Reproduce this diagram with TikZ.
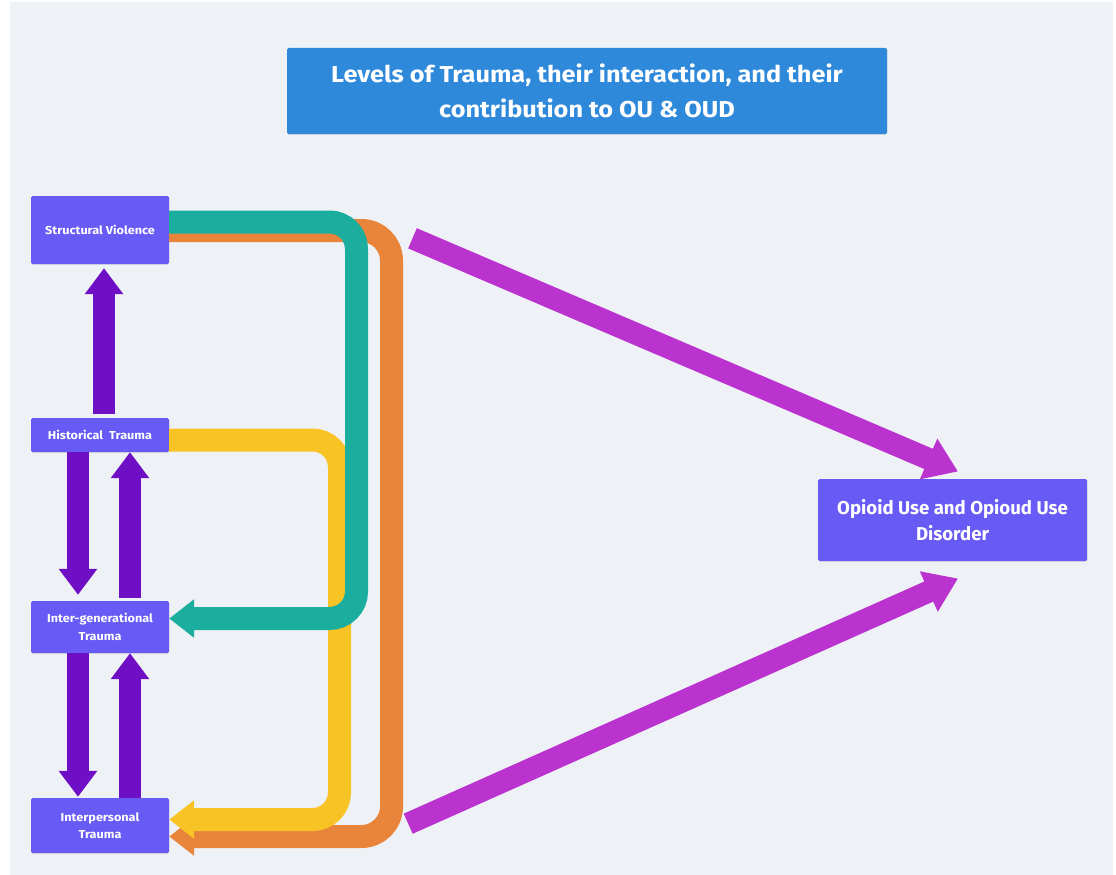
\documentclass[tikz,border=0pt]{standalone}
\usepackage{fontspec}
\setmainfont{Fira Sans}
\newfontfamily\widefont[FakeStretch=1.1]{Fira Sans}
\usetikzlibrary{arrows.meta,shadows}
\definecolor{bgc}{HTML}{EEF2F6}
\definecolor{titlec}{HTML}{2E89DB}
\definecolor{boxc}{HTML}{685BF5}
\definecolor{purp}{HTML}{6F0FC5}
\definecolor{tealc}{HTML}{1BAE9E}
\definecolor{orangec}{HTML}{E8853A}
\definecolor{yellowc}{HTML}{F7C325}
\definecolor{magc}{HTML}{BB33CF}
\tikzset{
  box/.style={fill=boxc, text=white, font=\bfseries, inner sep=0pt, rounded corners=1.5pt, align=center,
    drop shadow={opacity=0.18, shadow xshift=0.4pt, shadow yshift=-0.8pt}},
  smallbox/.style={box, minimum width=138pt, font=\widefont\bfseries\fontsize{11.5}{17.5}\selectfont},
  parrow/.style={draw=purp, line width=22.5pt, -{Triangle[width=37pt,length=26pt]}, purp},
  loop/.style={line width=23pt, rounded corners=27pt, -{Triangle[width=37pt,length=25pt]}},
  marrow/.style={draw=magc, line width=22pt, -{Triangle[width=42pt,length=32pt]}, magc}
}
\begin{document}
\begin{tikzpicture}[x=1pt,y=-1pt]
\useasboundingbox (0,0) rectangle (1116,875);
\fill[white] (0,0) rectangle (1116,875);
\fill[bgc] (10,2) rectangle (1113,875);

\node[box, fill=titlec, minimum width=600pt, minimum height=86pt, font=\widefont\bfseries\fontsize{23}{34.5}\selectfont] (title) at (587,91)
  {Levels of Trauma, their interaction, and their\\contribution to OU \& OUD};

\node[smallbox, minimum height=68pt] (sv) at (100,230) {Structural Violence};
\node[smallbox, minimum height=34pt] (ht) at (100,435) {Historical\ \ Trauma};
\node[smallbox, minimum height=52pt] (ig) at (100,627) {Inter-generational\\Trauma};
\node[smallbox, minimum height=55pt] (ip) at (100,825.5) {Interpersonal\\Trauma};
\node[box, minimum width=269pt, minimum height=82pt, font=\bfseries\fontsize{18.6}{26}\selectfont] (oud) at (952.5,520)
  {Opioid Use and Opioud Use\\Disorder};

% purple arrows
\draw[parrow] ([xshift=4pt,yshift=4pt]ht.north) -- ([xshift=4pt,yshift=-4pt]sv.south);
\draw[parrow] ([xshift=-22pt]ht.south) -- ([xshift=-22pt,yshift=6pt]ig.north);
\draw[parrow] ([xshift=30pt,yshift=3pt]ig.north) -- ([xshift=30pt]ht.south);
\draw[parrow] ([xshift=-22pt]ig.south) -- ([xshift=-22pt,yshift=1pt]ip.north);
\draw[parrow] ([xshift=30pt]ip.north) -- ([xshift=30pt]ig.south);

% loops
\draw[loop, draw=orangec, orangec, rounded corners=30pt] ([yshift=-0.5pt]sv.east) -- (391.5,230.5) -- (391.5,836.5) -- ([yshift=-11pt]ip.east);
\draw[loop, draw=yellowc, yellowc] ([yshift=-5pt]ht.east) -- (339.5,440) -- (339.5,819.5) -- ([yshift=6pt]ip.east);
\draw[loop, draw=tealc, tealc] ([yshift=8pt]sv.east) -- (356.5,222) -- (356.5,618.5) -- ([yshift=8.5pt]ig.east);

% magenta arrows
\coordinate (m1) at (412.5,238.3);
\coordinate (m2) at (408.2,823.7);
\draw[marrow] (m1) -- ([xshift=5.5pt,yshift=7.3pt]oud.north);
\draw[marrow] (m2) -- ([xshift=5.5pt,yshift=-17.3pt]oud.south);
\end{tikzpicture}
\end{document}
